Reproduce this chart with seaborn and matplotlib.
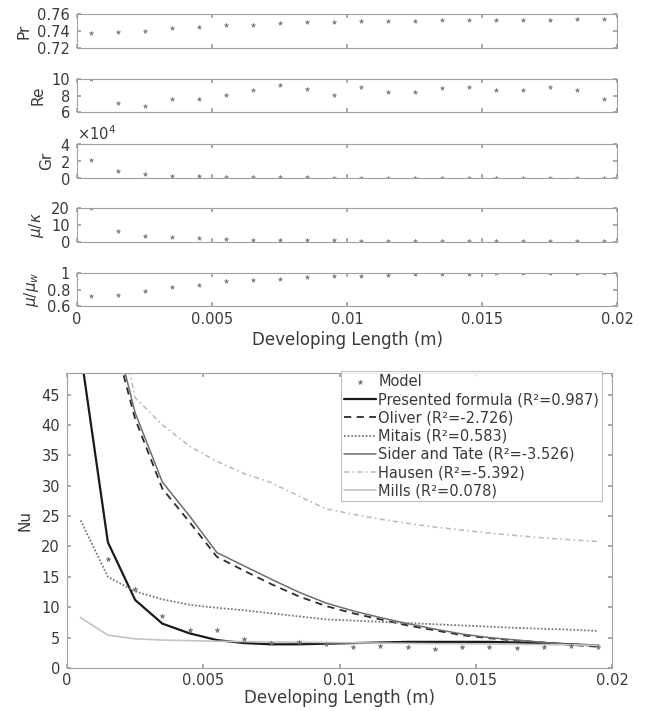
import numpy as np
import pandas as pd
import seaborn as sns
import matplotlib
matplotlib.use("Agg")
import matplotlib.pyplot as plt
from matplotlib.ticker import FuncFormatter

# developing length positions (m)
x_pos = [0.0005, 0.0015, 0.0025, 0.0035, 0.0045, 0.0055, 0.0065, 0.0075, 0.0085, 0.0095,
         0.0105, 0.0115, 0.0125, 0.0135, 0.0145, 0.0155, 0.0165, 0.0175, 0.0185, 0.0195]

# top panels
pr = [0.7376, 0.7385, 0.740, 0.743, 0.745, 0.747, 0.747, 0.749, 0.751, 0.751,
      0.752, 0.752, 0.752, 0.753, 0.753, 0.753, 0.753, 0.753, 0.754, 0.754]
re = [9.95, 7.11, 6.76, 7.62, 7.62, 8.13, 8.63, 9.3, 8.8, 8.05,
      9.03, 8.4, 8.4, 8.87, 9.03, 8.71, 8.71, 9.03, 8.71, 7.54]
gr = [21600, 8500, 4800, 3000, 2700, 1700, 1400, 1100, 1000, 800,
      700, 600, 500, 500, 400, 400, 400, 300, 300, 300]
mu_k = [19.8, 6.4, 3.6, 2.6, 2.0, 1.6, 1.3, 1.1, 0.9, 0.8,
        0.7, 0.65, 0.6, 0.55, 0.5, 0.45, 0.42, 0.4, 0.38, 0.35]
mu_ratio = [0.722, 0.735, 0.787, 0.836, 0.857, 0.906, 0.918, 0.93, 0.951, 0.958,
            0.958, 0.979, 0.987, 0.99, 0.993, 0.995, 0.997, 0.998, 0.999, 1.0]

# bottom panel: Nusselt number
nu_model = [55, 18, 13, 8.5, 6.2, 6.3, 4.8, 4.1, 4.2, 4.0,
            3.4, 3.7, 3.4, 3.1, 3.4, 3.4, 3.3, 3.4, 3.6, 3.4]
nu_presented = [52, 20.7, 11.2, 7.3, 5.7, 4.6, 4.1, 3.9, 3.9, 4.0,
                4.1, 4.2, 4.3, 4.3, 4.3, 4.3, 4.2, 4.1, 3.9, 3.7]
nu_oliver = [120, 58, 41, 29.5, 24, 18.3, 16, 13.8, 11.8, 10.2,
             9.0, 8.0, 7.0, 6.2, 5.4, 4.9, 4.5, 4.2, 3.8, 3.5]
nu_mitais = [24.3, 15, 12.6, 11.3, 10.4, 9.9, 9.5, 9.0, 8.5, 8.0,
             7.8, 7.6, 7.4, 7.2, 7.0, 6.8, 6.6, 6.45, 6.3, 6.1]
nu_sider = [125, 60, 42, 30.6, 25, 19, 16.8, 14.6, 12.5, 10.7,
            9.4, 8.3, 7.3, 6.4, 5.6, 5.0, 4.6, 4.2, 3.9, 3.6]
nu_hausen = [150, 66, 44.5, 40, 36.5, 34, 32, 30.5, 28.3, 26.2,
             25.3, 24.5, 23.8, 23.2, 22.7, 22.2, 21.8, 21.4, 21.1, 20.8]
nu_mills = [8.3, 5.4, 4.8, 4.6, 4.5, 4.4, 4.35, 4.3, 4.25, 4.2,
            4.15, 4.1, 4.05, 4.0, 4.0, 3.95, 3.9, 3.85, 3.8, 3.75]

x_ticks = [0, 0.005, 0.01, 0.015, 0.02]

sns.set_theme(style="ticks")
plt.rcParams["font.family"] = ["DejaVu Sans"]
plt.rcParams["xtick.direction"] = "in"
plt.rcParams["ytick.direction"] = "in"
plt.rcParams["xtick.top"] = True
plt.rcParams["ytick.right"] = True
plt.rcParams["axes.linewidth"] = 0.8
plt.rcParams["axes.edgecolor"] = "#a0a0a0"
plt.rcParams["xtick.color"] = "#a0a0a0"
plt.rcParams["ytick.color"] = "#a0a0a0"
plt.rcParams["xtick.labelcolor"] = "#3a3a3a"
plt.rcParams["ytick.labelcolor"] = "#3a3a3a"
plt.rcParams["xtick.labelsize"] = 10.5
plt.rcParams["ytick.labelsize"] = 10.5
plt.rcParams["xtick.major.size"] = 3
plt.rcParams["ytick.major.size"] = 3
plt.rcParams["xtick.major.pad"] = 4.5
plt.rcParams["ytick.major.pad"] = 5
plt.rcParams["axes.labelcolor"] = "#3a3a3a"

fmt = FuncFormatter(lambda v, p: "%g" % v)

fig = plt.figure(figsize=(6.46, 7.11), dpi=100)

W, H = 646.0, 711.0
panels = [
    (pr, "Pr", (0.72, 0.76), [0.72, 0.74, 0.76], 14, 48),
    (re, "Re", (6, 10), [6, 8, 10], 79, 112.3),
    (gr, "Gr", (0, 40000), [0, 20000, 40000], 144, 178.3),
    (mu_k, r"$\mu/\kappa$", (0, 20), [0, 10, 20], 208, 241.7),
    (mu_ratio, r"$\mu/\mu_w$", (0.6, 1.0), [0.6, 0.8, 1.0], 273, 306),
]
for i, (vals, lab, ylim, yt, ytop, ybot) in enumerate(panels):
    ax = fig.add_axes([77 / W, 1 - ybot / H, 540 / W, (ybot - ytop) / H])
    sns.scatterplot(x=x_pos, y=vals, ax=ax, marker="*", s=11, color="#7a7a7a",
                    edgecolor="#7a7a7a", linewidth=0.3)
    ax.set_xlim(0, 0.02)
    ax.set_ylim(*ylim)
    ax.set_yticks(yt)
    ax.set_xticks(x_ticks)
    ax.set_ylabel(lab, fontsize=11, labelpad=4)
    if lab == "Gr":
        ax.ticklabel_format(axis="y", style="sci", scilimits=(0, 0), useMathText=True)
        ax.yaxis.get_offset_text().set_fontsize(10.5)
        ax.yaxis.get_offset_text().set_color("#3a3a3a")
    else:
        ax.yaxis.set_major_formatter(fmt)
    if i < 4:
        ax.set_xticklabels([])
    else:
        ax.xaxis.set_major_formatter(fmt)
        ax.set_xlabel("Developing Length (m)", fontsize=12, labelpad=3)

# bottom panel
axb = fig.add_axes([67 / W, 1 - 668 / H, 545 / W, (668 - 372.7) / H])
series = [
    ("Presented formula (R\u00b2=0.987)", nu_presented, "#1a1a1a", "-", 1.6),
    ("Oliver (R\u00b2=-2.726)", nu_oliver, "#2b2b2b", (0, (4, 3)), 1.3),
    ("Mitais (R\u00b2=0.583)", nu_mitais, "#7a7a7a", (0, (1, 1)), 1.3),
    ("Sider and Tate (R\u00b2=-3.526)", nu_sider, "#6e6e6e", "-", 1.1),
    ("Hausen (R\u00b2=-5.392)", nu_hausen, "#bdbdbd", (0, (3, 2, 1, 2)), 1.2),
    ("Mills (R\u00b2=0.078)", nu_mills, "#c4c4c4", "-", 1.2),
]
sns.scatterplot(x=x_pos, y=nu_model, ax=axb, marker="*", s=14, color="#707070",
                edgecolor="#707070", linewidth=0.3, label="Model", zorder=5)
for name, vals, col, ls, lw in series:
    sns.lineplot(x=x_pos, y=vals, ax=axb, color=col, linestyle=ls, linewidth=lw,
                 label=name)
axb.set_xlim(0, 0.02)
axb.set_ylim(0, 48.6)
axb.set_xticks(x_ticks)
axb.set_yticks([0, 5, 10, 15, 20, 25, 30, 35, 40, 45])
axb.xaxis.set_major_formatter(fmt)
axb.tick_params(axis="x", pad=3.5)
axb.set_xlabel("Developing Length (m)", fontsize=12, labelpad=1)
axb.set_ylabel("Nu", fontsize=11, labelpad=6)

leg = axb.legend(loc="upper right", bbox_to_anchor=(0.982, 1.005), fontsize=10.5,
                 frameon=True, fancybox=False, edgecolor="#b0b0b0",
                 borderpad=0.2, labelspacing=0.22, handlelength=2.2,
                 handletextpad=0.15, borderaxespad=0.0)
leg.get_frame().set_linewidth(0.8)
for t in leg.get_texts():
    t.set_color("#3a3a3a")

fig.savefig("out.png", dpi=100)
